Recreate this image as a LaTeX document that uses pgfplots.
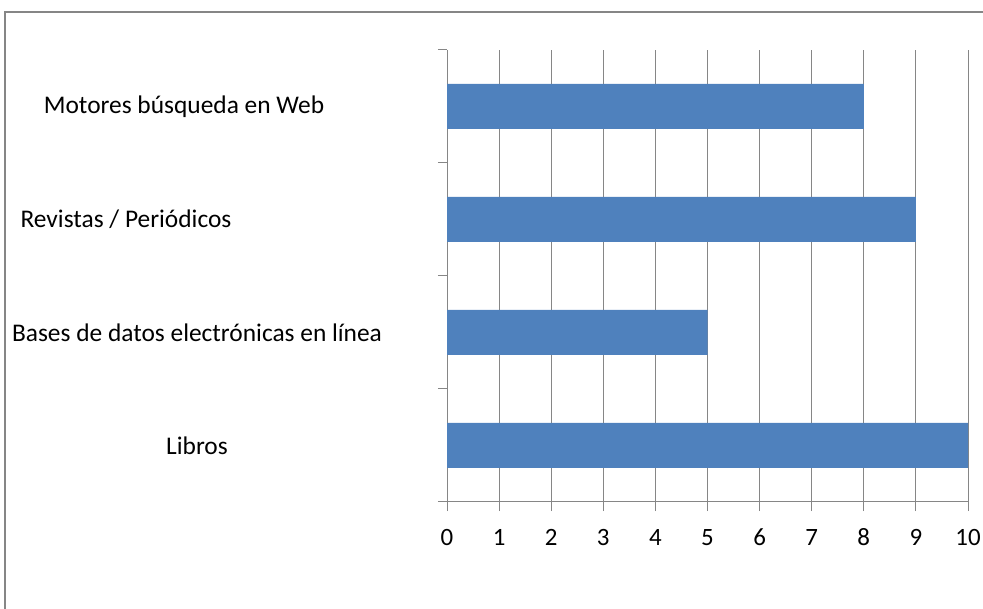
\documentclass[border=0pt]{standalone}
\usepackage{pgfplots}
\pgfplotsset{compat=1.18}
\usepackage{fontspec}
\setmainfont{Carlito}
\definecolor{barblue}{HTML}{4F81BD}
\definecolor{axgray}{HTML}{868686}
\begin{document}
\begin{tikzpicture}
\useasboundingbox (0,0) rectangle (983bp,609bp);
\draw[axgray, line width=2bp] (5bp,-5bp) -- (5bp,597bp) -- (990bp,597bp);
\begin{axis}[
  at={(447bp,107bp)}, anchor=south west,
  scale only axis, width=521bp, height=452bp,
  xbar, bar width=45bp,
  xmin=0, xmax=10, ymin=-0.5, ymax=3.5,
  axis x line*=bottom, axis y line*=left,
  axis line style={axgray, line width=1bp, -},
  xtick={0,...,10},
  xmajorgrids, grid style={axgray, line width=1bp},
  ytick={-0.5,0.5,1.5,2.5,3.5}, yticklabels={},
  extra y ticks={0,1,2,3},
  extra y tick labels={Libros, Bases de datos electrónicas en línea, Revistas / Periódicos\hspace*{142bp}, Motores búsqueda en Web\hspace*{26bp}},
  extra y tick style={major tick length=0pt, yticklabel style={anchor=center, xshift=-250bp, font=\fontsize{25.5}{30}\selectfont}},
  tick align=outside,
  major tick length=9bp,
  tick style={axgray, line width=1bp},
  ticklabel style={font=\fontsize{25}{30}\selectfont, text=black},
  xticklabel style={yshift=-14bp, text height=17bp, text depth=0pt},
  /pgf/number format/assume math mode=true,
]
\addplot[fill=barblue, draw=none] coordinates {(10,0) (5,1) (9,2) (8,3)};
\end{axis}
\end{tikzpicture}
\end{document}
